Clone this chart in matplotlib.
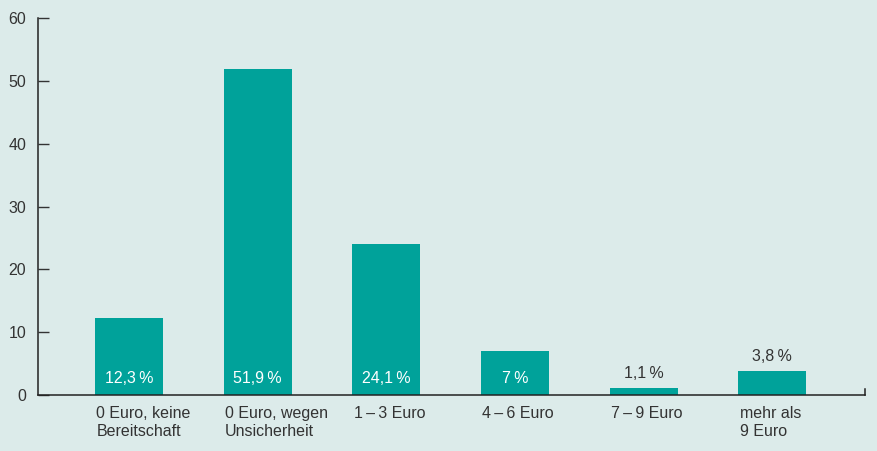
import numpy as np
import matplotlib.pyplot as plt

plt.rcParams['font.family'] = ['Liberation Sans', 'DejaVu Sans']

# Daten
categories = ['0 Euro, keine\nBereitschaft', '0 Euro, wegen\nUnsicherheit', '1\u2009\u2013\u20093 Euro',
              '4\u2009\u2013\u20096 Euro', '7\u2009\u2013\u20099 Euro', 'mehr als\n9 Euro']
values = [12.3, 51.9, 24.1, 7.0, 1.1, 3.8]
value_labels = ['12,3\u2009%', '51,9\u2009%', '24,1\u2009%', '7\u2009%', '1,1\u2009%', '3,8\u2009%']
yticks = [0, 10, 20, 30, 40, 50, 60]

bg = '#dcebea'
bar_color = '#00a29a'
text_color = '#333333'

fig = plt.figure(figsize=(8.77, 4.51), dpi=100, facecolor=bg)
ax = fig.add_axes([0.0433, 0.124, 0.943, 0.836], facecolor=bg)

x = np.arange(len(values))
width = 0.53
ax.bar(x, values, width=width, color=bar_color, zorder=2)

for xi, v, lab in zip(x, values, value_labels):
    if v >= 7:
        ax.annotate(lab, xy=(xi, 0), xytext=(0, 12), textcoords='offset points',
                    ha='center', va='center', color='white', fontsize=11.5)
    else:
        ax.annotate(lab, xy=(xi, v), xytext=(0, 10.5), textcoords='offset points',
                    ha='center', va='center', color=text_color, fontsize=11.5)

# Kategorien linksbündig unter den Balken
for xi, cat in zip(x, categories):
    ax.annotate(cat, xy=(xi - width / 2, 0), xytext=(1, -8), textcoords='offset points',
                ha='left', va='top', color=text_color, fontsize=11.5, linespacing=1.2)

ax.set_xlim(-0.708, 5.72)
ax.set_ylim(0, 60)
ax.set_yticks(yticks)
ax.set_xticks([])
ax.tick_params(axis='y', direction='in', length=8, width=1, color='#333333',
               labelsize=11.5, labelcolor=text_color, pad=8.5)

for s in ['top', 'right']:
    ax.spines[s].set_visible(False)
for s in ['left', 'bottom']:
    ax.spines[s].set_color('#222222')
    ax.spines[s].set_linewidth(1.1)

# kleiner Strich am rechten Ende der x-Achse
ax.plot([5.72, 5.72], [0, 0.9], color='#222222', lw=1.1, clip_on=False)

fig.savefig('out.png', dpi=100, facecolor=bg)
